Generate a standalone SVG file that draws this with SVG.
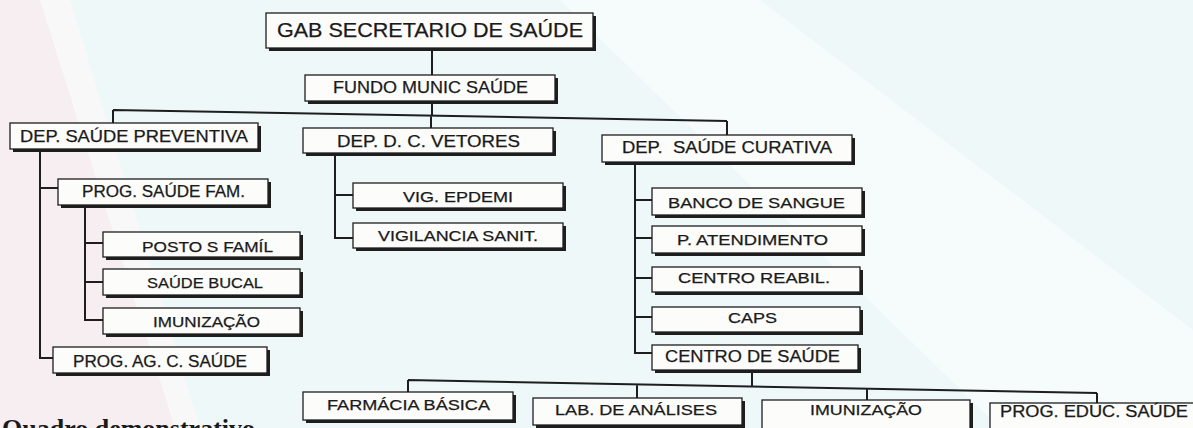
<svg xmlns="http://www.w3.org/2000/svg" width="1193" height="428" viewBox="0 0 1193 428">
<style>
.sh{fill:#1e1e1e}
.bx{fill:#fcfcfb;stroke:#1e1e1e;stroke-width:1.3}
.t{font-family:"Liberation Sans",Arial,sans-serif;fill:#1a1a1a;stroke:#1a1a1a;stroke-width:0.25;white-space:pre}
.c{fill:none;stroke:#1e1e1e;stroke-width:2}
</style>
<g id="background">
<rect x="0" y="0" width="1193" height="428" fill="#eef8f9"/>
<polygon points="0,0 40,0 175,428 0,428" fill="#f6eef0"/>
<polygon points="40,0 70,0 200,428 175,428" fill="#f9f8f8"/>
<polygon points="560,0 760,0 1193,330 1193,428 1000,428" fill="#f6fbfb"/>
</g>
<g id="connectors">
<path class="c" d="M432,48V75M432,101V115"/>
<path class="c" d="M113,110L727,121M113,110V123M431,116V128M727,121V135"/>
<path class="c" d="M40,149V358H53M40,188H58"/>
<path class="c" d="M85,205V320H103M85,243H103M85,282H103"/>
<path class="c" d="M335,153V238H353M335,195H353"/>
<path class="c" d="M635,162V353H652M635,200H652M635,238H652M635,278H652M635,317H652"/>
<path class="c" d="M752,370V386.5M408,380L1097,393M408,380V392M637,384.3V398M867,388.6V400M1097,393V403"/>
</g>
<g id="n-gab"><rect class="sh" x="269" y="16" width="327" height="35"/><rect class="bx" x="266" y="13" width="327" height="35"/><text class="t" x="277" y="37" font-size="21" textLength="306" lengthAdjust="spacingAndGlyphs">GAB SECRETARIO DE SAÚDE</text></g>
<g id="n-fundo"><rect class="sh" x="308" y="78" width="250" height="26"/><rect class="bx" x="305" y="75" width="250" height="26"/><text class="t" x="333" y="93" font-size="17" textLength="195" lengthAdjust="spacingAndGlyphs">FUNDO MUNIC SAÚDE</text></g>
<g id="n-prev"><rect class="sh" x="13" y="126" width="248" height="26"/><rect class="bx" x="10" y="123" width="248" height="26"/><text class="t" x="20" y="142" font-size="17" textLength="228" lengthAdjust="spacingAndGlyphs">DEP. SAÚDE PREVENTIVA</text></g>
<g id="n-psf"><rect class="sh" x="61" y="182" width="210" height="26"/><rect class="bx" x="58" y="179" width="210" height="26"/><text class="t" x="82" y="197" font-size="16" textLength="163" lengthAdjust="spacingAndGlyphs">PROG. SAÚDE FAM.</text></g>
<g id="n-posto"><rect class="sh" x="106" y="235" width="197" height="25"/><rect class="bx" x="103" y="232" width="197" height="25"/><text class="t" x="142" y="252" font-size="15" textLength="131" lengthAdjust="spacingAndGlyphs">POSTO S FAMÍL</text></g>
<g id="n-bucal"><rect class="sh" x="106" y="272" width="197" height="26"/><rect class="bx" x="103" y="269" width="197" height="26"/><text class="t" x="147" y="288" font-size="15" textLength="116" lengthAdjust="spacingAndGlyphs">SAÚDE BUCAL</text></g>
<g id="n-imun1"><rect class="sh" x="106" y="311" width="197" height="26"/><rect class="bx" x="103" y="308" width="197" height="26"/><text class="t" x="153" y="327" font-size="15" textLength="107" lengthAdjust="spacingAndGlyphs">IMUNIZAÇÃO</text></g>
<g id="n-pagcs"><rect class="sh" x="56" y="350" width="214" height="26"/><rect class="bx" x="53" y="347" width="214" height="26"/><text class="t" x="73" y="367" font-size="16" textLength="174" lengthAdjust="spacingAndGlyphs">PROG. AG. C. SAÚDE</text></g>
<g id="n-vet"><rect class="sh" x="306" y="131" width="250" height="25"/><rect class="bx" x="303" y="128" width="250" height="25"/><text class="t" x="337" y="147" font-size="16" textLength="183" lengthAdjust="spacingAndGlyphs">DEP. D. C. VETORES</text></g>
<g id="n-vigepd"><rect class="sh" x="356" y="186" width="210" height="25"/><rect class="bx" x="353" y="183" width="210" height="25"/><text class="t" x="403" y="202" font-size="15" textLength="110" lengthAdjust="spacingAndGlyphs">VIG. EPDEMI</text></g>
<g id="n-vigsan"><rect class="sh" x="356" y="226" width="210" height="25"/><rect class="bx" x="353" y="223" width="210" height="25"/><text class="t" x="378" y="241" font-size="15" textLength="160" lengthAdjust="spacingAndGlyphs">VIGILANCIA SANIT.</text></g>
<g id="n-cur"><rect class="sh" x="605" y="138" width="250" height="27"/><rect class="bx" x="602" y="135" width="250" height="27"/><text class="t" x="622" y="153" font-size="16" textLength="210" lengthAdjust="spacingAndGlyphs">DEP.  SAÚDE CURATIVA</text></g>
<g id="n-banco"><rect class="sh" x="655" y="191" width="210" height="27"/><rect class="bx" x="652" y="188" width="210" height="27"/><text class="t" x="668" y="208" font-size="15" textLength="177" lengthAdjust="spacingAndGlyphs">BANCO DE SANGUE</text></g>
<g id="n-pat"><rect class="sh" x="655" y="229" width="210" height="27"/><rect class="bx" x="652" y="226" width="210" height="27"/><text class="t" x="677" y="245" font-size="15" textLength="151" lengthAdjust="spacingAndGlyphs">P. ATENDIMENTO</text></g>
<g id="n-reabil"><rect class="sh" x="655" y="270" width="208" height="25"/><rect class="bx" x="652" y="267" width="208" height="25"/><text class="t" x="678" y="283" font-size="15" textLength="152" lengthAdjust="spacingAndGlyphs">CENTRO REABIL.</text></g>
<g id="n-caps"><rect class="sh" x="655" y="310" width="208" height="25"/><rect class="bx" x="652" y="307" width="208" height="25"/><text class="t" x="728" y="323" font-size="15" textLength="49" lengthAdjust="spacingAndGlyphs">CAPS</text></g>
<g id="n-csaude"><rect class="sh" x="655" y="348" width="206" height="25"/><rect class="bx" x="652" y="345" width="206" height="25"/><text class="t" x="665" y="362" font-size="16" textLength="175" lengthAdjust="spacingAndGlyphs">CENTRO DE SAÚDE</text></g>
<g id="n-farm"><rect class="sh" x="306" y="395" width="210" height="28"/><rect class="bx" x="303" y="392" width="210" height="28"/><text class="t" x="327" y="410" font-size="15" textLength="163" lengthAdjust="spacingAndGlyphs">FARMÁCIA BÁSICA</text></g>
<g id="n-lab"><rect class="sh" x="536" y="401" width="209" height="27"/><rect class="bx" x="533" y="398" width="209" height="27"/><text class="t" x="555" y="415" font-size="15" textLength="162" lengthAdjust="spacingAndGlyphs">LAB. DE ANÁLISES</text></g>
<g id="n-imun2"><rect class="sh" x="765" y="403" width="208" height="30"/><rect class="bx" x="762" y="400" width="208" height="30"/><text class="t" x="810" y="415" font-size="15" textLength="112" lengthAdjust="spacingAndGlyphs">IMUNIZAÇÃO</text></g>
<g id="n-educ"><rect class="sh" x="993" y="406" width="210" height="30"/><rect class="bx" x="990" y="403" width="210" height="30"/><text class="t" x="1000" y="417" font-size="16" textLength="188" lengthAdjust="spacingAndGlyphs">PROG. EDUC. SAÚDE</text></g>
<text x="2" y="437" font-family="'Liberation Serif','Times New Roman',serif" font-weight="bold" font-size="26" fill="#1a1a1a">Quadro demonstrativo</text>
</svg>
